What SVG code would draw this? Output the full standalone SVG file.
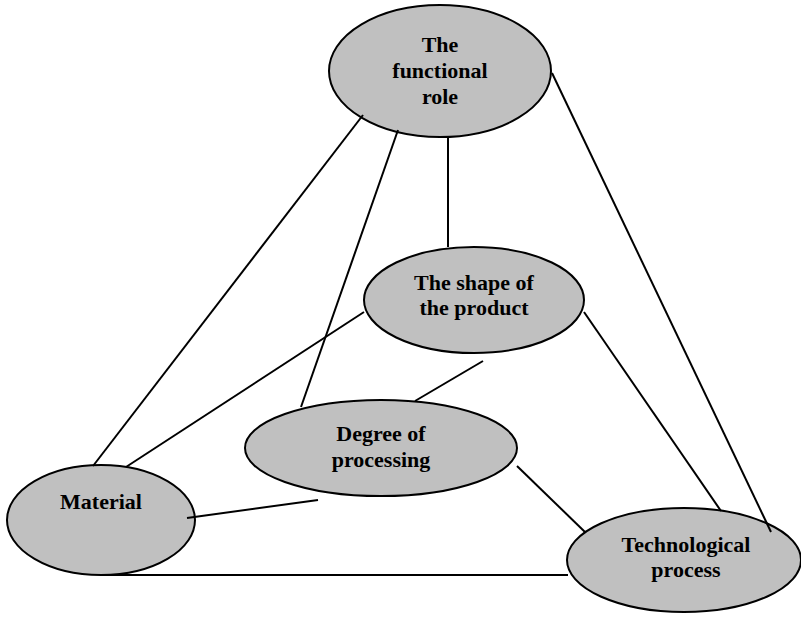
<svg xmlns="http://www.w3.org/2000/svg" width="801" height="620" viewBox="0 0 801 620">
<style>
.node ellipse{fill:#c0c0c0;stroke:#000;stroke-width:2}
.lbl{font-family:"Liberation Serif","Times New Roman",serif;font-weight:bold;font-size:22px;fill:#000;text-anchor:middle}
.conn line{stroke:#000;stroke-width:2}
</style>
<rect width="801" height="620" fill="#fff"/>
<g id="n-functional" class="node">
<ellipse cx="440" cy="71" rx="111" ry="66"/>
<text class="lbl" x="440" y="52">The</text>
<text class="lbl" x="440" y="78">functional</text>
<text class="lbl" x="440" y="104">role</text>
</g>
<g id="n-shape" class="node">
<ellipse cx="474" cy="300" rx="110" ry="53"/>
<text class="lbl" x="474" y="290">The shape of</text>
<text class="lbl" x="474" y="315">the product</text>
</g>
<g id="n-degree" class="node">
<ellipse cx="381" cy="448" rx="136" ry="48"/>
<text class="lbl" x="381" y="441">Degree of</text>
<text class="lbl" x="381" y="467">processing</text>
</g>
<g id="n-material" class="node">
<ellipse cx="101" cy="520" rx="94" ry="55"/>
<text class="lbl" x="101" y="509">Material</text>
</g>
<g id="n-tech" class="node">
<ellipse cx="684" cy="560" rx="117" ry="52"/>
<text class="lbl" x="686" y="552">Technological</text>
<text class="lbl" x="686" y="577">process</text>
</g>
<g id="connectors" class="conn">
<line x1="363" y1="115" x2="93" y2="466"/>
<line x1="398" y1="130" x2="301" y2="407"/>
<line x1="448" y1="137" x2="448" y2="247"/>
<line x1="552" y1="73" x2="771" y2="532"/>
<line x1="364" y1="312" x2="126" y2="467"/>
<line x1="483" y1="361" x2="415" y2="401"/>
<line x1="584" y1="312" x2="721" y2="511"/>
<line x1="517" y1="466" x2="585" y2="532"/>
<line x1="187" y1="518" x2="318" y2="500"/>
<line x1="100" y1="575" x2="568" y2="575"/>
</g>
</svg>
